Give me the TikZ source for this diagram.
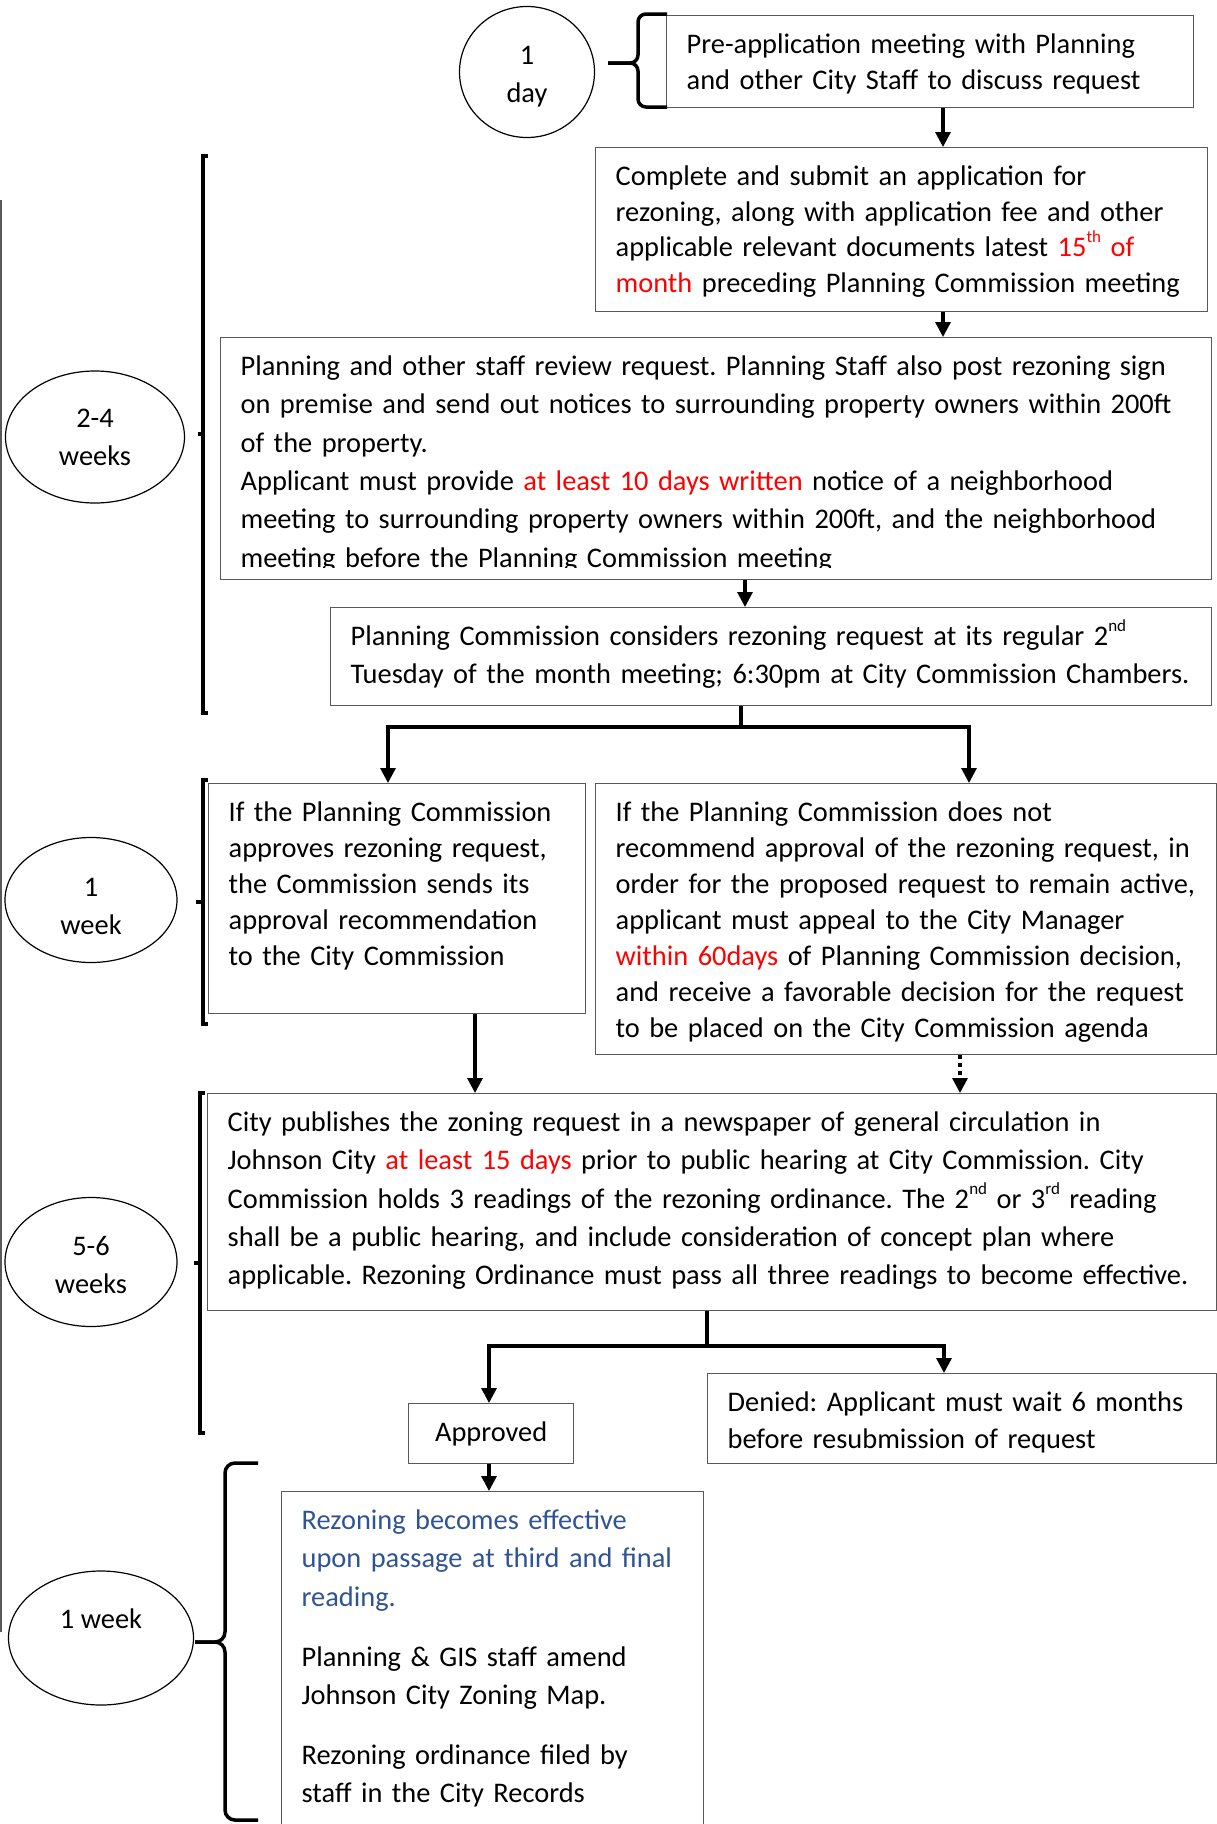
\documentclass[tikz,border=0pt]{standalone}
\usepackage{fontspec}
\setmainfont{Carlito}
\usetikzlibrary{positioning,shapes.geometric,arrows.meta}
\definecolor{boxgray}{RGB}{89,89,89}
\definecolor{rezblue}{RGB}{47,84,150}
\newcommand{\hl}[1]{\textcolor{red}{#1}}
\newcommand{\sups}[1]{\raisebox{0.5em}{\fontsize{17}{17}\selectfont #1}}
\frenchspacing

\begin{document}
\begin{tikzpicture}[x=1pt,y=-1pt,
    font=\fontsize{28.4}{35.5}\selectfont,
    stepbox/.style={draw=boxgray,line width=1.3pt,anchor=north west,align=left,
      inner xsep=20pt,inner ysep=12pt,text height=26pt,
      execute at begin node={\hyphenpenalty=10000\rightskip=0pt plus 1fil minus 20pt\relax}},
    wide/.style={font=\fontsize{28.4}{38.3}\selectfont},
    period/.style={draw,ellipse,line width=1.2pt,inner sep=0pt,align=center,
      font=\fontsize{28.4}{38}\selectfont},
    arr/.style={line width=3.2pt,-{Triangle[width=15pt,length=15pt]}},
    bracket/.style={line width=3.5pt}]
  \useasboundingbox (0,0) rectangle (1217,1824);

  % time spans
  \node[period,minimum width=135pt,minimum height=131pt,text height=66.5pt] (oneday) at (527,72) {1\\day};
  \node[period,minimum width=179pt,minimum height=132pt] (twofour) at (95,437) {2-4\\weeks};
  \node[period,minimum width=172pt,minimum height=125pt,text height=68.5pt] (oneweek) at (91,900) {1\\week};
  \node[period,minimum width=172pt,minimum height=129pt,text height=62.5pt] (fivesix) at (91,1262) {5-6\\weeks};
  \node[period,minimum width=185pt,minimum height=134pt,text height=20pt,text depth=40pt] (lastweek) at (101,1638) {1 week};

  % steps
  \node[stepbox,text width=487pt,text depth=42pt] (pre) at (666,15)
    {Pre-application meeting with Planning\\and other City Staff to discuss request};
  \node[stepbox,text width=572pt,text depth=114pt] (submit) at (595,147)
    {Complete and submit an application for\\rezoning, along with application fee and other\\applicable relevant documents latest \hl{15\sups{th} of}\\\hl{month} preceding Planning Commission meeting};
  \node[stepbox,wide,text width=951pt,text depth=192pt] (review) at (220,337)
    {Planning and other staff review request. Planning Staff also post rezoning sign\\on premise and send out notices to surrounding property owners within 200ft\\of the property.\\Applicant must provide \hl{at least 10 days written} notice of a neighborhood\\meeting to surrounding property owners within 200ft, and the neighborhood\\meeting before the Planning Commission meeting};
  \fill[white] ([xshift=2pt,yshift=1pt]review.south west) rectangle ([xshift=-2pt,yshift=12pt]review.south east);
  \node[stepbox,wide,text width=841pt,text depth=48pt] (pcmeet) at (330,607)
    {Planning Commission considers rezoning request at its regular 2\sups{nd}\\Tuesday of the month meeting; 6:30pm at City Commission Chambers.};
  \node[stepbox,font=\fontsize{28.4}{36}\selectfont,text width=337pt,text depth=180pt] (approve) at (208,783)
    {If the Planning Commission\\approves rezoning request,\\the Commission sends its\\approval recommendation\\to the City Commission};
  \node[stepbox,font=\fontsize{28.4}{36}\selectfont,text width=581pt,text depth=221pt] (deny) at (595,783)
    {If the Planning Commission does not\\recommend approval of the rezoning request, in\\order for the proposed request to remain active,\\applicant must appeal to the City Manager\\\hl{within 60days} of Planning Commission decision,\\and receive a favorable decision for the request\\to be placed on the City Commission agenda};
  \node[stepbox,wide,text width=969pt,text depth=167pt] (publish) at (207,1093)
    {City publishes the zoning request in a newspaper of general circulation in\\Johnson City \hl{at least 15 days} prior to public hearing at City Commission. City\\Commission holds 3 readings of the rezoning ordinance. The 2\sups{nd} or 3\sups{rd} reading\\shall be a public hearing, and include consideration of concept plan where\\applicable. Rezoning Ordinance must pass all three readings to become effective.};
  \node[draw=boxgray,line width=1.3pt,anchor=north west,minimum width=165pt,minimum height=60pt,inner sep=0pt] (ok) at (408,1403) {Approved};
  \node[stepbox,font=\fontsize{28.4}{37}\selectfont,text width=469pt,text depth=40pt] (denied) at (707,1373)
    {Denied: Applicant must wait 6 months\\before resubmission of request};
  \node[stepbox,wide,text width=382pt,text depth=294pt] (effect) at (281,1491)
    {\textcolor{rezblue}{Rezoning becomes effective}\\\textcolor{rezblue}{upon passage at third and final}\\\textcolor{rezblue}{reading.}\\[21.5pt]Planning \& GIS staff amend\\Johnson City Zoning Map.\\[21.5pt]Rezoning ordinance filed by\\staff in the City Records};

  % arrow lanes
  \coordinate (xa) at (943,0);
  \coordinate (xb) at (745,0);
  \coordinate (split1) at (741,727);
  \coordinate (xd) at (388,0);
  \coordinate (xe) at (969,0);
  \coordinate (xf) at (475,0);
  \coordinate (xg) at (960,0);
  \coordinate (split2) at (707,1346);
  \coordinate (xi) at (489,0);
  \coordinate (xj) at (944,0);

  \draw[arr] (pre.south -| xa) -- (submit.north -| xa);
  \draw[arr] (submit.south -| xa) -- (review.north -| xa);
  \draw[arr] (review.south -| xb) -- (pcmeet.north -| xb);
  \draw[line width=3.2pt] (pcmeet.south -| split1) -- (split1);
  \draw[arr] (split1) -| (approve.north -| xd);
  \draw[arr] (split1) -| (deny.north -| xe);
  \draw[arr] (approve.south -| xf) -- (publish.north -| xf);
  \draw[arr,dash pattern=on 4pt off 4pt] (deny.south -| xg) -- (publish.north -| xg);
  \draw[line width=3.2pt] (publish.south -| split2) -- (split2);
  \draw[arr] (split2) -| (ok.north -| xi);
  \draw[arr] (split2) -| (denied.north -| xj);
  \draw[arr] (ok.south -| xi) -- (effect.north -| xi);

  % brackets
  \draw[bracket,rounded corners=8pt] (667,14) -- (638,14) -- (638,63) -- (608,63);
  \draw[bracket,rounded corners=8pt] (608,63) -- (638,63) -- (638,107) -- (667,107);
  \draw[bracket] (208,156) -- (203,156) -- (203,713) -- (208,713);
  \draw[bracket] (203,434) -- (198,434);
  \draw[bracket] (208,780) -- (203,780) -- (203,1024) -- (208,1024);
  \draw[bracket] (203,902) -- (196,902);
  \draw[bracket] (205,1093) -- (200,1093) -- (200,1433) -- (205,1433);
  \draw[bracket] (200,1263) -- (194,1263);
  \draw[bracket,rounded corners=10pt] (258,1463) -- (225,1463) -- (225,1642) -- (195,1642);
  \draw[bracket,rounded corners=10pt] (195,1642) -- (225,1642) -- (225,1820) -- (258,1820);
  \draw[boxgray,line width=2pt] (1,200) -- (1,1632);
\end{tikzpicture}
\end{document}
